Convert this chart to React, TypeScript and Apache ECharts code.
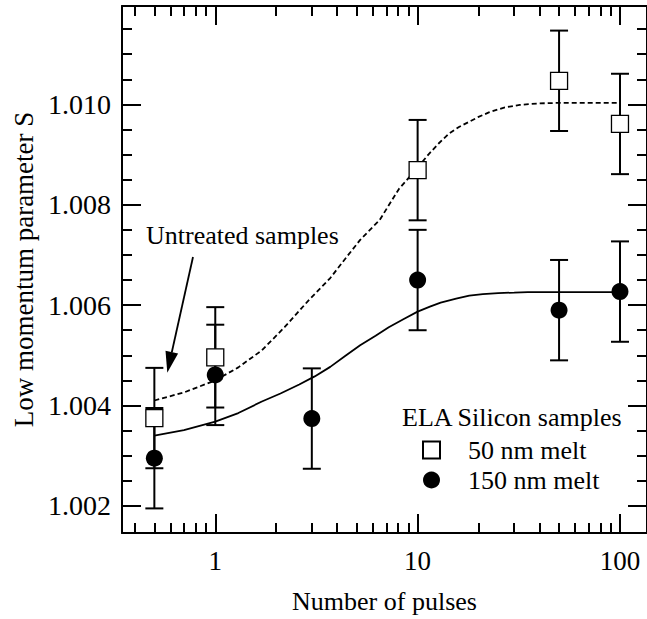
import React, { useEffect, useRef } from "react";
import * as echarts from "echarts";

// Measured S parameter, 50 nm melt depth
const pulses50 = [0.5, 1, 10, 50, 100];
const sParam50 = [1.00375, 1.00496, 1.00869, 1.01047, 1.00961];
const sErr50 = [0.001, 0.001, 0.001, 0.001, 0.001];

// Measured S parameter, 150 nm melt depth
const pulses150 = [0.5, 1, 3, 10, 50, 100];
const sParam150 = [1.00295, 1.00461, 1.00374, 1.0065, 1.0059, 1.00627];
const sErr150 = [0.001, 0.001, 0.001, 0.001, 0.001, 0.001];

// Fitted trend curves
const fit50Pulses = [0.5, 0.7, 1, 1.3, 1.7, 2.2, 2.9, 3.7, 4.4, 5.2, 6.5, 8.1, 10, 11.3, 12.7, 14.3, 16, 17.9, 20, 22.5, 25, 27, 32, 40, 50, 100];
const fit50S = [1.0041, 1.00426, 1.0045, 1.00476, 1.0051, 1.00556, 1.0061, 1.00654, 1.00693, 1.0073, 1.0077, 1.00832, 1.00874, 1.009, 1.00922, 1.00942, 1.00955, 1.00965, 1.00975, 1.00984, 1.0099, 1.00994, 1.00999, 1.01002, 1.01003, 1.01003];
const fit150Pulses = [0.5, 0.7, 1, 1.3, 1.7, 2.1, 2.6, 3.1, 3.7, 4.4, 5.2, 6.2, 7.2, 8.5, 10, 11.5, 13, 15.5, 18, 21, 25, 30, 35, 50, 100];
const fit150S = [1.0034, 1.00351, 1.00368, 1.00385, 1.00408, 1.00424, 1.00442, 1.00458, 1.00477, 1.00499, 1.0052, 1.00539, 1.00556, 1.00572, 1.00587, 1.00597, 1.00605, 1.00613, 1.00619, 1.00622, 1.00624, 1.00625, 1.00626, 1.00626, 1.00626];

// Axis ticks
const xMajorTicks = [1, 10, 100];
const xMinorTicks = [0.4, 0.5, 0.6, 0.7, 0.8, 0.9, 2, 3, 4, 5, 6, 7, 8, 9, 20, 30, 40, 50, 60, 70, 80, 90];
const yMajorTicks = [1.002, 1.004, 1.006, 1.008, 1.01];
const yMinorTicks = [1.0025, 1.003, 1.0035, 1.0045, 1.005, 1.0055, 1.0065, 1.007, 1.0075, 1.0085, 1.009, 1.0095, 1.0105, 1.011, 1.0115];

const X_MIN = 0.346;
const X_MAX = 136;
const Y_MIN = 1.00146;
const Y_MAX = 1.01196;

const FONT = "Times New Roman, Liberation Serif, DejaVu Serif, serif";
const INK = "#000";

const errorBarSeries = (xs: number[], ys: number[], errs: number[]) => ({
  type: "custom",
  xAxisIndex: 0,
  yAxisIndex: 0,
  z: 3,
  encode: { x: 0, y: [1, 2] },
  data: xs.map((x, i) => [x, ys[i] - errs[i], ys[i] + errs[i]]),
  renderItem: (_params: any, api: any) => {
    const x = api.value(0);
    const top = api.coord([x, api.value(2)]);
    const bot = api.coord([x, api.value(1)]);
    const hw = 9;
    const style = { stroke: INK, lineWidth: 2, fill: "none" };
    return {
      type: "group",
      children: [
        { type: "line", shape: { x1: top[0], y1: top[1], x2: bot[0], y2: bot[1] }, style },
        { type: "line", shape: { x1: top[0] - hw, y1: top[1], x2: top[0] + hw, y2: top[1] }, style },
        { type: "line", shape: { x1: bot[0] - hw, y1: bot[1], x2: bot[0] + hw, y2: bot[1] }, style },
      ],
    };
  },
});

const xAxisBase = (gridIndex: number, position: string) => ({
  type: "log",
  gridIndex,
  position,
  min: X_MIN,
  max: X_MAX,
  logBase: 10,
  splitLine: { show: false },
  minorTick: { show: false },
  minorSplitLine: { show: false },
});

const yAxisBase = (gridIndex: number, position: string) => ({
  type: "value",
  gridIndex,
  position,
  min: Y_MIN,
  max: Y_MAX,
  scale: true,
  splitLine: { show: false },
  minorTick: { show: false },
});

export default function App() {
  const ref = useRef<HTMLDivElement>(null);

  useEffect(() => {
    if (!ref.current) return;
    const chart = echarts.init(ref.current, null, { renderer: "svg" });

    const majorTick = (values: number[]) => ({
      show: true,
      inside: true,
      length: 19,
      customValues: values,
      lineStyle: { color: INK, width: 2 },
    });
    const minorTickStyle = (values: number[]) => ({
      show: true,
      inside: true,
      length: 10,
      customValues: values,
      lineStyle: { color: INK, width: 2 },
    });
    const frameLine = { show: true, onZero: false, lineStyle: { color: INK, width: 2 } };
    const noLine = { show: false };

    const option: any = {
      animation: false,
      backgroundColor: "#fff",
      textStyle: { fontFamily: FONT, color: INK },
      grid: [
        { left: 122, top: 6, width: 527, height: 527, containLabel: false },
        { left: 122, top: 6, width: 527, height: 527, containLabel: false },
      ],
      xAxis: [
        {
          ...xAxisBase(0, "bottom"),
          axisLine: frameLine,
          axisTick: majorTick(xMajorTicks),
          axisLabel: {
            show: true,
            customValues: xMajorTicks,
            margin: 14,
            fontSize: 27,
            fontFamily: FONT,
            color: INK,
            formatter: (v: number) => String(Math.round(v)),
          },
          name: "Number of pulses",
          nameLocation: "middle",
          nameGap: 55,
          nameTextStyle: { fontSize: 26, fontFamily: FONT, color: INK },
        },
        {
          ...xAxisBase(0, "top"),
          axisLine: frameLine,
          axisTick: majorTick(xMajorTicks),
          axisLabel: { show: false, customValues: xMajorTicks },
        },
        {
          ...xAxisBase(1, "bottom"),
          axisLine: noLine,
          axisTick: minorTickStyle(xMinorTicks),
          axisLabel: { show: false, customValues: xMinorTicks },
        },
        {
          ...xAxisBase(1, "top"),
          axisLine: noLine,
          axisTick: minorTickStyle(xMinorTicks),
          axisLabel: { show: false, customValues: xMinorTicks },
        },
      ],
      yAxis: [
        {
          ...yAxisBase(0, "left"),
          axisLine: frameLine,
          axisTick: majorTick(yMajorTicks),
          axisLabel: {
            show: true,
            customValues: yMajorTicks,
            margin: 11,
            fontSize: 28,
            fontFamily: FONT,
            color: INK,
            formatter: (v: number) => v.toFixed(3),
          },
          name: "Low momentum parameter S",
          nameLocation: "middle",
          nameGap: 84,
          nameTextStyle: { fontSize: 27, fontFamily: FONT, color: INK },
        },
        {
          ...yAxisBase(0, "right"),
          axisLine: frameLine,
          axisTick: majorTick(yMajorTicks),
          axisLabel: { show: false, customValues: yMajorTicks },
        },
        {
          ...yAxisBase(1, "left"),
          axisLine: noLine,
          axisTick: minorTickStyle(yMinorTicks),
          axisLabel: { show: false, customValues: yMinorTicks },
        },
        {
          ...yAxisBase(1, "right"),
          axisLine: noLine,
          axisTick: minorTickStyle(yMinorTicks),
          axisLabel: { show: false, customValues: yMinorTicks },
        },
      ],
      legend: {
        orient: "vertical",
        left: 417,
        top: 432,
        itemWidth: 17,
        itemHeight: 17,
        itemGap: 4,
        selectedMode: false,
        data: ["50 nm melt", "150 nm melt"],
        textStyle: { fontSize: 26, fontFamily: FONT, color: INK, padding: [0, 0, 0, 23] },
      },
      series: [
        {
          name: "50 nm fit",
          type: "line",
          xAxisIndex: 0,
          yAxisIndex: 0,
          z: 2,
          showSymbol: false,
          smooth: false,
          lineStyle: { color: INK, width: 1.8, type: [5, 3] },
          data: fit50Pulses.map((x, i) => [x, fit50S[i]]),
        },
        {
          name: "150 nm fit",
          type: "line",
          xAxisIndex: 0,
          yAxisIndex: 0,
          z: 2,
          showSymbol: false,
          smooth: false,
          lineStyle: { color: INK, width: 1.8 },
          data: fit150Pulses.map((x, i) => [x, fit150S[i]]),
        },
        errorBarSeries(pulses50, sParam50, sErr50),
        errorBarSeries(pulses150, sParam150, sErr150),
        {
          name: "50 nm melt",
          type: "scatter",
          xAxisIndex: 0,
          yAxisIndex: 0,
          z: 4,
          symbol: "rect",
          symbolSize: 17,
          itemStyle: { color: "#fff", borderColor: INK, borderWidth: 1.3, opacity: 1 },
          data: pulses50.map((x, i) => [x, sParam50[i]]),
        },
        {
          name: "150 nm melt",
          type: "scatter",
          xAxisIndex: 0,
          yAxisIndex: 0,
          z: 4,
          symbol: "circle",
          symbolSize: 17,
          itemStyle: { color: INK, opacity: 1 },
          data: pulses150.map((x, i) => [x, sParam150[i]]),
        },
      ],
      graphic: [
        {
          type: "text",
          left: 402,
          top: 404,
          style: { text: "ELA Silicon samples", fontSize: 26, fontFamily: FONT, fill: INK },
        },
        {
          type: "text",
          left: 146,
          top: 222,
          style: { text: "Untreated samples", fontSize: 26, fontFamily: FONT, fill: INK },
        },
        {
          type: "line",
          shape: { x1: 193, y1: 257, x2: 171.8, y2: 352.2 },
          style: { stroke: INK, lineWidth: 1.8 },
        },
        {
          type: "polygon",
          shape: { points: [[167.3, 372.7], [178.1, 353.6], [165.5, 350.8]] },
          style: { fill: INK },
        },
      ],
    };

    chart.setOption(option);
    return () => chart.dispose();
  }, []);

  return (
    <div
      ref={ref}
      style={{ position: "fixed", left: 0, top: 0, width: 647, height: 619, background: "#fff" }}
    />
  );
}
